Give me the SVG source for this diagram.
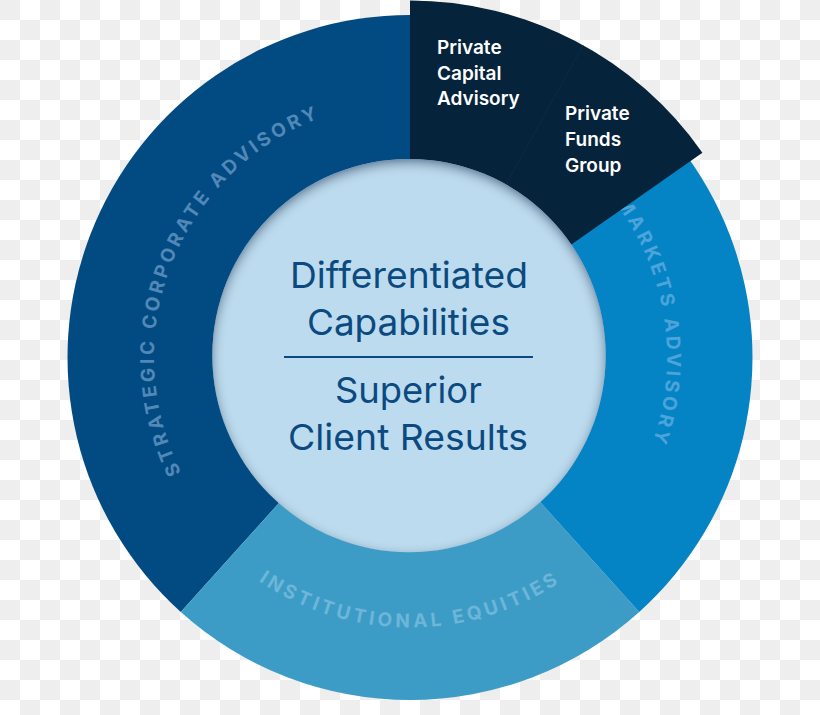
<svg xmlns="http://www.w3.org/2000/svg" width="820" height="715" viewBox="0 0 820 715">
  <defs>
    <pattern id="checker" x="0" y="0" width="40" height="40" patternUnits="userSpaceOnUse">
      <rect x="0" y="0" width="40" height="40" fill="#ffffff"/>
      <rect x="0" y="0" width="20" height="20" fill="#eeeeee"/>
      <rect x="20" y="20" width="20" height="20" fill="#eeeeee"/>
    </pattern>
    <filter id="inset" x="-10%" y="-10%" width="120%" height="120%">
      <feFlood flood-color="#1a4a78" flood-opacity="0.9" result="f"/>
      <feComposite in="f" in2="SourceAlpha" operator="out" result="o"/>
      <feGaussianBlur in="o" stdDeviation="6" result="b"/>
      <feOffset in="b" dx="0" dy="4" result="off"/>
      <feComposite in="off" in2="SourceAlpha" operator="in" result="sh"/>
      <feMerge>
        <feMergeNode in="SourceGraphic"/>
        <feMergeNode in="sh"/>
      </feMerge>
    </filter>
    <path id="arcStrategic" d="M209.7,516.9 A256,256 0 0 1 372.2,104.3"/>
    <path id="arcInstitutional" d="M176.2,492.5 A270,270 0 0 0 643.8,492.5"/>
    <path id="arcMarkets" d="M575.2,160.6 A257,257 0 0 1 606.9,522.7"/>
  </defs>
  <style>
    .ring { font-family: Inter, "Liberation Sans", sans-serif; font-size: 19px; font-weight: 700; }
    .priv { font-family: Inter, "Liberation Sans", sans-serif; font-size: 19px; font-weight: 600; fill: #ffffff; }
    .center { font-family: Inter, "Liberation Sans", sans-serif; font-size: 36px; font-weight: 400; fill: #0b4a80; text-anchor: middle; }
  </style>

  <rect id="background" x="0" y="0" width="820" height="715" fill="url(#checker)"/>

  <g id="strategic-corporate-advisory">
    <path d="M410,357.5 L180.8,612 A342.5,342.5 0 0 1 410,15 Z" fill="#024b82"/>
    <text class="ring" fill="#5288b8" letter-spacing="3.45"><textPath href="#arcStrategic" startOffset="50%" text-anchor="middle">STRATEGIC CORPORATE ADVISORY</textPath></text>
  </g>

  <g id="institutional-equities">
    <path d="M410,357.5 L639.2,612 A342.5,342.5 0 0 1 180.8,612 Z" fill="#3d9cc6"/>
    <text class="ring" fill="#6db6da" letter-spacing="3.65"><textPath href="#arcInstitutional" startOffset="50%" text-anchor="middle">INSTITUTIONAL EQUITIES</textPath></text>
  </g>

  <g id="capital-markets-advisory">
    <path d="M410,357.5 L410,15 A342.5,342.5 0 0 1 639.2,612 Z" fill="#0584c5"/>
    <text class="ring" fill="#4ca4da" letter-spacing="3.5"><textPath href="#arcMarkets" startOffset="58">MARKETS ADVISORY</textPath></text>
  </g>

  <g id="private-capital">
    <path d="M410,357.5 L410,0.5 A357,357 0 0 1 702.4,152.7 Z" fill="#05233b"/>
    <line x1="505.5" y1="185.3" x2="583.1" y2="45.3" stroke="#0b2b47" stroke-width="1"/>
    <text class="priv" x="437" y="54">Private</text>
    <text class="priv" x="437" y="80">Capital</text>
    <text class="priv" x="437" y="105">Advisory</text>
    <text class="priv" x="565" y="120">Private</text>
    <text class="priv" x="565" y="146">Funds</text>
    <text class="priv" x="565" y="172">Group</text>
  </g>

  <g id="center">
    <circle cx="409" cy="355.6" r="196.7" fill="#bddbee" filter="url(#inset)"/>
    <text class="center" x="409" y="288" textLength="238" lengthAdjust="spacingAndGlyphs">Differentiated</text>
    <text class="center" x="408.4" y="335" textLength="203" lengthAdjust="spacingAndGlyphs">Capabilities</text>
    <line x1="284" y1="357" x2="533" y2="357" stroke="#0b4a80" stroke-width="2"/>
    <text class="center" x="408.4" y="403" textLength="147" lengthAdjust="spacingAndGlyphs">Superior</text>
    <text class="center" x="408" y="450" textLength="240" lengthAdjust="spacingAndGlyphs">Client Results</text>
  </g>

  <g id="connectors"/>
</svg>
